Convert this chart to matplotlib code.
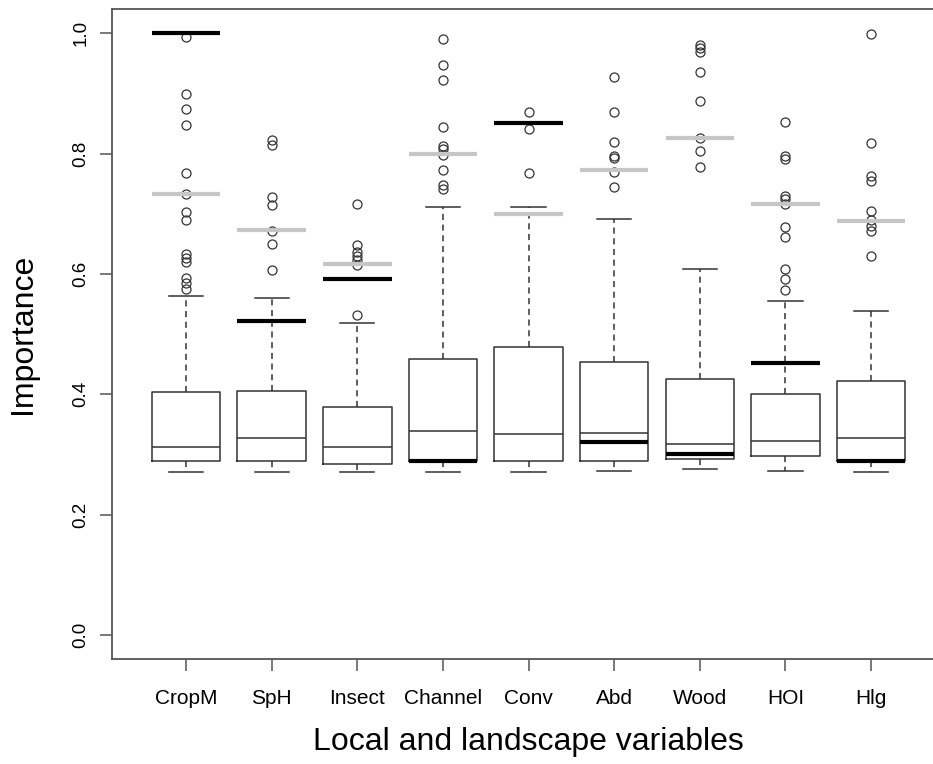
import matplotlib
matplotlib.use('Agg')
import matplotlib.pyplot as plt
import numpy as np

plt.rcParams['font.family'] = ['Liberation Sans', 'DejaVu Sans']

# boxplot summaries
labels = ['CropM', 'SpH', 'Insect', 'Channel', 'Conv', 'Abd', 'Wood', 'HOI', 'Hlg']
q1 = [0.289, 0.289, 0.284, 0.289, 0.289, 0.289, 0.292, 0.297, 0.289]
med = [0.312, 0.328, 0.312, 0.339, 0.334, 0.336, 0.318, 0.322, 0.328]
q3 = [0.404, 0.406, 0.379, 0.459, 0.478, 0.453, 0.426, 0.400, 0.422]
whislo = [0.271, 0.271, 0.270, 0.271, 0.270, 0.272, 0.275, 0.272, 0.270]
whishi = [0.563, 0.560, 0.518, 0.712, 0.712, 0.691, 0.608, 0.555, 0.539]

fliers = [
    [0.994, 0.899, 0.874, 0.848, 0.767, 0.732, 0.703, 0.690, 0.633, 0.627, 0.619, 0.593, 0.585, 0.575],
    [0.822, 0.814, 0.728, 0.715, 0.672, 0.649, 0.606],
    [0.717, 0.648, 0.636, 0.630, 0.623, 0.615, 0.532],
    [0.991, 0.948, 0.922, 0.845, 0.812, 0.807, 0.798, 0.772, 0.748, 0.741],
    [0.869, 0.841, 0.767],
    [0.928, 0.869, 0.819, 0.796, 0.793, 0.769, 0.745],
    [0.981, 0.975, 0.968, 0.935, 0.887, 0.826, 0.805, 0.778],
    [0.852, 0.796, 0.791, 0.730, 0.724, 0.717, 0.678, 0.661, 0.609, 0.592, 0.573],
    [0.998, 0.817, 0.762, 0.755, 0.704, 0.690, 0.679, 0.672, 0.630],
]

# thick reference lines
black_vals = [1.000, 0.522, 0.591, 0.289, 0.850, 0.321, 0.301, 0.452, 0.289]
gray_vals = [0.732, 0.673, 0.617, 0.800, 0.699, 0.772, 0.826, 0.717, 0.688]

stats = []
for i in range(len(labels)):
    stats.append({'label': labels[i], 'q1': q1[i], 'med': med[i], 'q3': q3[i],
                  'whislo': whislo[i], 'whishi': whishi[i], 'fliers': fliers[i]})

fig = plt.figure(figsize=(9.33, 7.64), dpi=100)
# right edge of the frame falls outside the picture (cropped)
ax = fig.add_axes([0.1205, 0.1374, 0.892, 0.8506])

pos = np.arange(1, len(labels) + 1)
edge = '#333333'
ax.bxp(stats, positions=pos, widths=0.8, showfliers=True,
       boxprops=dict(color=edge, linewidth=1.1),
       medianprops=dict(color=edge, linewidth=1.1),
       whiskerprops=dict(color=edge, linewidth=1.1, linestyle=(0, (4, 3))),
       capprops=dict(color=edge, linewidth=1.1),
       capwidths=0.4,
       flierprops=dict(marker='o', markerfacecolor='none', markeredgecolor=edge,
                       markersize=6.5, markeredgewidth=0.9))

ax.hlines(gray_vals, pos - 0.4, pos + 0.4, colors='#c6c6c6', linewidth=3, zorder=4)
ax.hlines(black_vals, pos - 0.4, pos + 0.4, colors='black', linewidth=3, zorder=5)

ax.set_xlim(0.14, 9.86)
ax.set_ylim(-0.04, 1.04)
ax.set_yticks([0.0, 0.2, 0.4, 0.6, 0.8, 1.0])
ax.set_yticklabels(['0.0', '0.2', '0.4', '0.6', '0.8', '1.0'], rotation=90, va='center', fontsize=13.5)
ax.set_xticks(pos)
ax.set_xticklabels(labels, fontsize=15)
ax.tick_params(axis='y', length=8.5, width=1.1, color='#555555', pad=8)
ax.tick_params(axis='x', length=8.5, width=1.1, color='#555555', pad=13)
for s in ['left', 'bottom', 'top']:
    ax.spines[s].set_color('#555555')
    ax.spines[s].set_linewidth(1.3)
ax.spines['right'].set_visible(False)

ax.set_ylabel('Importance', fontsize=23, labelpad=25)
ax.set_xlabel('Local and landscape variables', fontsize=23, labelpad=14)

fig.savefig('out.png', dpi=100)
